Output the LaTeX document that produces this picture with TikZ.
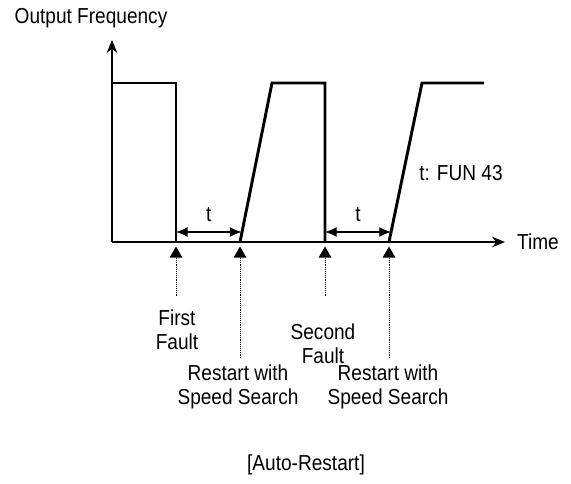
\documentclass[tikz,border=0pt]{standalone}
\usepackage{fontspec}
\setmainfont{Liberation Sans}[FakeStretch=0.88]
\usetikzlibrary{arrows.meta,positioning,shapes.geometric}

\begin{document}
\begin{tikzpicture}[
    font=\fontsize{18.5}{20.5}\selectfont,
    axis/.style={line width=1.2pt, -{Stealth[length=11pt,width=9pt]}},
    signal/.style={line width=2.5pt, line join=miter},
    span/.style={line width=1.1pt, {Latex[length=10pt,width=8.5pt]}-{Latex[length=10pt,width=8.5pt]}},
    tribox/.style={regular polygon, regular polygon sides=3, fill=black, inner sep=0pt, minimum size=0.45cm, anchor=corner 1},
    guide/.style={densely dotted, line width=0.6pt},
    lbl/.style={align=center, inner sep=0pt}
]
    \useasboundingbox (-3.36,-7.23) rectangle (13.77,7.26);

    % Axes
    \coordinate (o) at (0,0);
    \coordinate (ytop) at (0,6.06);
    \coordinate (xend) at (11.79,0);
    \draw [axis] (o) -- (ytop);
    \draw [axis] (o) -- (xend);
    \node (ylab) at (-0.63,6.72) {Output Frequency};
    \node (xlab) at (12.78,0) {Time};

    % Output waveform
    \draw [signal] (0,4.77) -- (1.92,4.77) -- (1.92,0);
    \draw [signal] (3.84,0) -- (4.8,4.77) -- (6.39,4.77) -- (6.39,0);
    \draw [signal] (8.31,0) -- (9.3,4.77) -- (11.16,4.77);
    \node (fun) at (10.47,2.07) {t: FUN 43};

    % Waiting time t
    \coordinate (t1a) at (1.92,0.3);
    \coordinate (t1b) at (3.89,0.3);
    \coordinate (t2a) at (6.39,0.3);
    \coordinate (t2b) at (8.37,0.3);
    \draw [span] (t1a) -- (t1b);
    \draw [span] (t2a) -- (t2b);
    \node (tlab1) at (2.9,0.81) {t};
    \node (tlab2) at (7.38,0.81) {t};

    % Event markers
    \node (fault1) at (1.92,-0.12) [tribox] {};
    \node (restart1) at (3.84,-0.12) [tribox] {};
    \node (fault2) at (6.39,-0.12) [tribox] {};
    \node (restart2) at (8.31,-0.12) [tribox] {};

    \coordinate (g1) at (1.92,-1.65);
    \coordinate (g2) at (3.84,-3.48);
    \coordinate (g3) at (6.39,-1.65);
    \coordinate (g4) at (8.31,-3.48);
    \draw [guide] (fault1.south) -- (g1);
    \draw [guide] (restart1.south) -- (g2);
    \draw [guide] (fault2.south) -- (g3);
    \draw [guide] (restart2.south) -- (g4);

    \node (lab1) at (1.95,-2.64) [lbl] {First\\Fault};
    \node (lab2) at (6.33,-3.06) [lbl] {Second\\Fault};
    \node (lab3) at (3.78,-4.35) [lbl] {Restart with\\Speed Search};
    \node (lab4) at (8.28,-4.35) [lbl] {Restart with\\Speed Search};

    \node (title) at (5.82,-6.69) {[Auto-Restart]};
\end{tikzpicture}
\end{document}
